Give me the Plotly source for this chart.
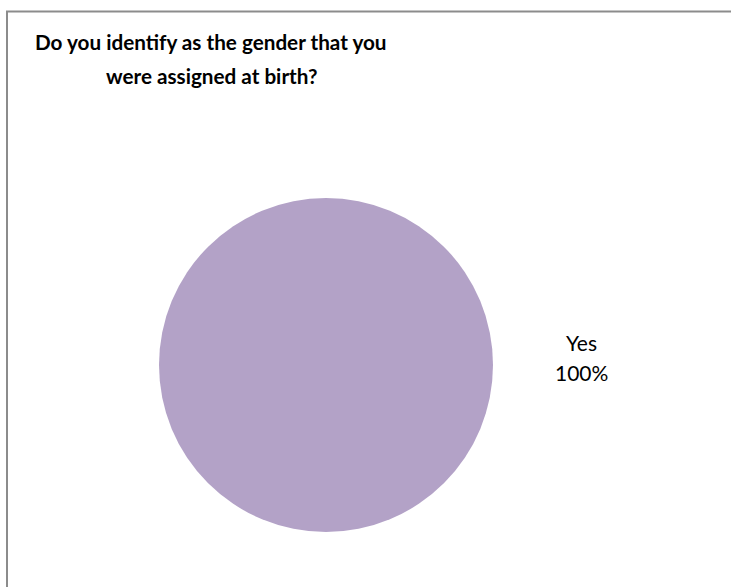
import plotly.graph_objects as go

title_lines = ["Do you identify as the gender that you", "were assigned at birth?"]
labels = ["Yes"]
values = [100]
colors = ["#B3A2C7"]

W, H = 731, 587

fig = go.Figure()
fig.add_trace(go.Pie(
    labels=labels,
    values=values,
    marker=dict(colors=colors, line=dict(width=0)),
    textinfo="none",
    hoverinfo="label+percent",
    sort=False,
    direction="clockwise",
    rotation=0,
    showlegend=False,
    domain=dict(x=[159 / W, 493 / W], y=[1 - 532 / H, 1 - 198 / H]),
))

total = sum(values)
for lab, v in zip(labels, values):
    for txt, ypix in ((lab, 342), (f"{round(v / total * 100)}%", 372)):
        fig.add_annotation(
            x=581 / W, y=1 - ypix / H, xref="paper", yref="paper",
            text=txt, showarrow=False, align="center",
            font=dict(family="Lato", size=21, color="#000000"),
            xanchor="center", yanchor="middle",
        )

for txt, ypix in zip(title_lines, (42, 76)):
    fig.add_annotation(
        x=211 / W, y=1 - ypix / H, xref="paper", yref="paper",
        text=f"<b>{txt}</b>", showarrow=False, align="center",
        font=dict(family="Lato", size=20.7, color="#000000"),
        xanchor="center", yanchor="middle",
    )

fig.add_shape(
    type="rect", xref="paper", yref="paper",
    x0=7 / W, x1=1.05, y0=-0.05, y1=1 - 11.5 / H,
    line=dict(color="#8C8C8C", width=2), fillcolor="rgba(0,0,0,0)",
)

fig.update_layout(
    width=W, height=H,
    margin=dict(l=0, r=0, t=0, b=0),
    paper_bgcolor="#FFFFFF", plot_bgcolor="#FFFFFF",
)

fig.write_html("out.html", config={"displayModeBar": False},
               post_script="document.body.style.margin='0';")
